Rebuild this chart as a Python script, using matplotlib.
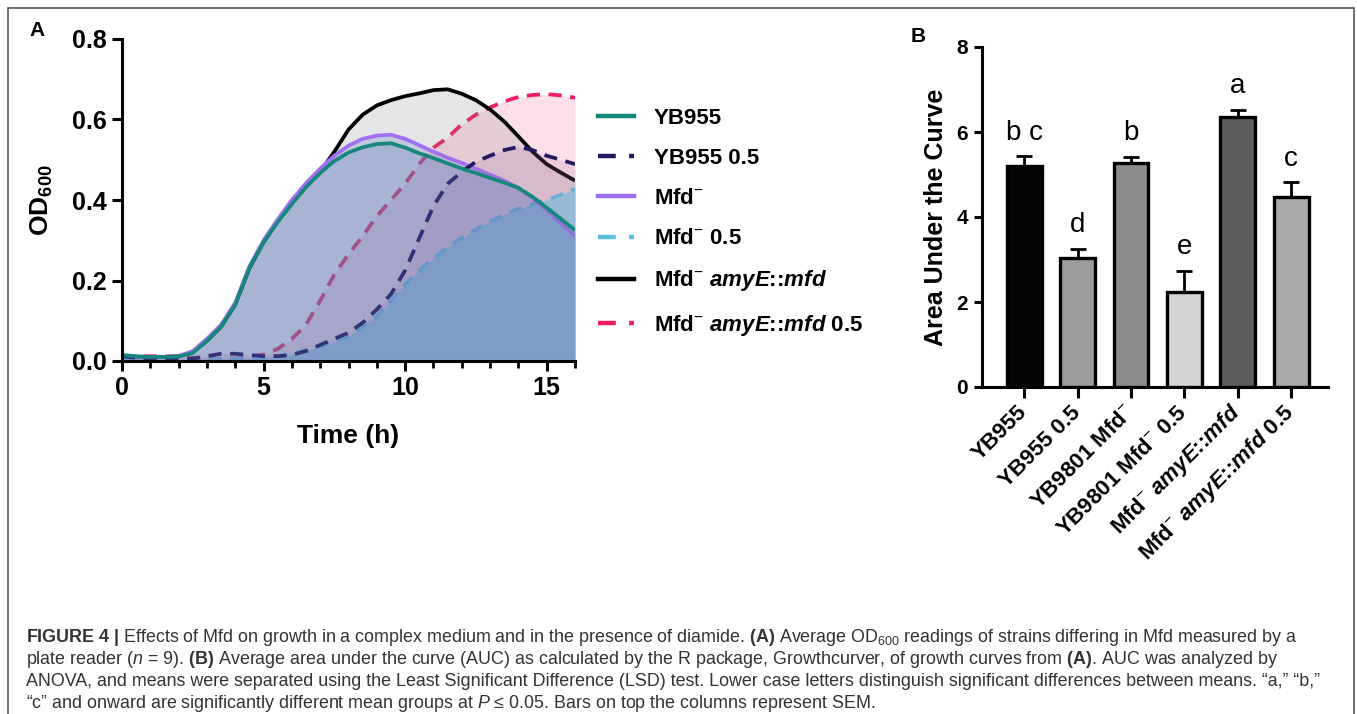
import numpy as np
import matplotlib
matplotlib.use("Agg")
import matplotlib.pyplot as plt
from matplotlib.lines import Line2D
from matplotlib.patches import Rectangle
from matplotlib.ticker import FormatStrFormatter, MultipleLocator

plt.rcParams['font.family'] = ['Liberation Sans', 'DejaVu Sans']
plt.rcParams['mathtext.fontset'] = 'custom'
plt.rcParams['mathtext.rm'] = 'Liberation Sans'
plt.rcParams['mathtext.it'] = 'Liberation Sans:italic'
plt.rcParams['mathtext.bf'] = 'Liberation Sans:bold'
plt.rcParams['mathtext.bfit'] = 'Liberation Sans:italic:bold'

# ---- panel A: growth curves (OD600 every 0.5 h) ----
time = [0, 0.5, 1, 1.5, 2, 2.5, 3, 3.5, 4, 4.5, 5, 5.5, 6, 6.5, 7, 7.5, 8,
        8.5, 9, 9.5, 10, 10.5, 11, 11.5, 12, 12.5, 13, 13.5, 14, 14.5, 15, 15.5, 16]

yb955 = [0.015, 0.012, 0.010, 0.010, 0.011, 0.020, 0.050, 0.085, 0.140, 0.232, 0.295,
         0.345, 0.390, 0.432, 0.467, 0.497, 0.518, 0.531, 0.539, 0.541, 0.530, 0.516,
         0.504, 0.491, 0.478, 0.467, 0.455, 0.443, 0.430, 0.408, 0.381, 0.353, 0.325]
yb955_05 = [0.012, 0.008, 0.005, 0.003, 0.003, 0.006, 0.012, 0.018, 0.018, 0.015, 0.012,
            0.012, 0.015, 0.025, 0.040, 0.055, 0.070, 0.095, 0.128, 0.166, 0.225, 0.305,
            0.385, 0.440, 0.470, 0.495, 0.510, 0.524, 0.532, 0.524, 0.510, 0.500, 0.489]
mfd = [0.012, 0.010, 0.010, 0.010, 0.012, 0.025, 0.055, 0.090, 0.145, 0.235, 0.300,
       0.352, 0.400, 0.442, 0.478, 0.510, 0.535, 0.552, 0.560, 0.562, 0.552, 0.536,
       0.520, 0.505, 0.492, 0.478, 0.463, 0.448, 0.430, 0.405, 0.375, 0.342, 0.310]
mfd_05 = [0.010, 0.006, 0.004, 0.002, 0.002, 0.003, 0.004, 0.005, 0.005, 0.006, 0.008,
          0.012, 0.018, 0.026, 0.036, 0.048, 0.060, 0.085, 0.110, 0.150, 0.190, 0.225,
          0.255, 0.283, 0.305, 0.327, 0.347, 0.363, 0.378, 0.390, 0.400, 0.413, 0.428]
amye = [0.012, 0.010, 0.010, 0.010, 0.012, 0.022, 0.050, 0.085, 0.140, 0.230, 0.295,
        0.348, 0.395, 0.437, 0.470, 0.520, 0.575, 0.612, 0.635, 0.648, 0.658, 0.665,
        0.673, 0.675, 0.664, 0.648, 0.625, 0.595, 0.558, 0.520, 0.489, 0.468, 0.448]
amye_05 = [0.012, 0.012, 0.012, 0.012, 0.010, 0.008, 0.006, 0.005, 0.006, 0.010, 0.016,
           0.030, 0.055, 0.090, 0.150, 0.215, 0.265, 0.310, 0.360, 0.400, 0.440, 0.490,
           0.530, 0.555, 0.588, 0.612, 0.630, 0.645, 0.656, 0.661, 0.663, 0.660, 0.654]

legend_labels = ["YB955", "YB955 0.5", r"Mfd$^{-}$", r"Mfd$^{-}$ 0.5",
                 r"Mfd$^{-}$ $\mathbfit{amyE}$::$\mathbfit{mfd}$",
                 r"Mfd$^{-}$ $\mathbfit{amyE}$::$\mathbfit{mfd}$ 0.5"]

# ---- panel B: area under the curve ----
strains = ["YB955", "YB955 0.5", r"YB9801 Mfd$^{-}$", r"YB9801 Mfd$^{-}$ 0.5",
           r"Mfd$^{-}$ $\mathbfit{amyE}$::$\mathbfit{mfd}$",
           r"Mfd$^{-}$ $\mathbfit{amyE}$::$\mathbfit{mfd}$ 0.5"]
auc = [5.21, 3.04, 5.26, 2.24, 6.36, 4.48]
sem = [0.22, 0.21, 0.16, 0.50, 0.16, 0.34]
groups = ["b c", "d", "b", "e", "a", "c"]
bar_colors = ['#050505', '#9c9c9c', '#8c8c8c', '#d4d4d4', '#5c5c5c', '#a8a8a8']

W, H = 1357, 714
fig = plt.figure(figsize=(W / 100, H / 100), dpi=100)


def box(l, t, r, b):
    return [l / W, 1 - b / H, (r - l) / W, (b - t) / H]


axA = fig.add_axes(box(122, 39, 575, 361))

# drawn bottom to top: (values, line colour, fill colour, fill alpha, dashed)
layers = [
    (amye_05, '#ee1f5c', '#f06090', 0.20, True),
    (amye, '#000000', '#808090', 0.20, False),
    (mfd_05, '#5cbde3', '#30c8ea', 0.45, True),
    (mfd, '#a070f0', '#5f7abe', 0.26, False),
    (yb955_05, '#24185f', '#aa78aa', 0.20, True),
    (yb955, '#17877d', '#5f7abe', 0.26, False),
]
for i, (vals, lc, fc, fa, dashed) in enumerate(layers):
    axA.fill_between(time, vals, 0, color=fc, alpha=fa, lw=0, zorder=2 + 2 * i)
    axA.plot(time, vals, color=lc, lw=2.7, ls=(0, (3.5, 2.3)) if dashed else '-',
             zorder=3 + 2 * i, solid_capstyle='butt')

axA.set_xlim(0, 16)
axA.set_ylim(0, 0.8)
axA.xaxis.set_major_locator(MultipleLocator(5))
axA.xaxis.set_minor_locator(MultipleLocator(1))
axA.yaxis.set_major_locator(MultipleLocator(0.2))
axA.yaxis.set_major_formatter(FormatStrFormatter('%.1f'))
for s in ['top', 'right']:
    axA.spines[s].set_visible(False)
for s in ['left', 'bottom']:
    axA.spines[s].set_linewidth(2.2)
    axA.spines[s].set_zorder(20)
axA.tick_params(which='major', length=7, width=2.2, labelsize=18, pad=4)
axA.tick_params(which='minor', length=5, width=2.0)
for lab in axA.get_xticklabels() + axA.get_yticklabels():
    lab.set_fontweight('bold')
axA.set_xlabel("Time (h)", fontsize=19, fontweight='bold', labelpad=17)
axA.set_ylabel(r"OD$_{\mathbf{600}}$", fontsize=19, fontweight='bold', labelpad=12)

order = [5, 4, 3, 2, 1, 0]
handles = []
for k in order:
    vals, lc, fc, fa, dashed = layers[k]
    handles.append(Line2D([], [], color=lc, lw=3.2,
                          ls=(0, (4.0, 3.0)) if dashed else '-'))
axA.legend(handles, legend_labels, loc='upper left',
           bbox_to_anchor=(598 / W, 1 - 108 / H), bbox_transform=fig.transFigure,
           frameon=False, prop={'weight': 'bold', 'size': 16}, handlelength=1.6,
           handletextpad=0.9, labelspacing=0.86, borderaxespad=0, borderpad=0)

# ---- panel B ----
axB = fig.add_axes(box(982, 47, 1328, 387))
x = np.arange(len(auc))
axB.bar(x, auc, width=0.65, color=bar_colors, edgecolor='black', linewidth=2.4, zorder=3)
axB.errorbar(x, auc, yerr=[np.zeros(len(sem)), sem], fmt='none', ecolor='black',
             elinewidth=2.0, capsize=6, capthick=2.0, zorder=4)
for xi, a, e, g in zip(x, auc, sem, groups):
    axB.text(xi, a + e + 0.25, g, ha='center', va='bottom', fontsize=20)
axB.set_xlim(-0.79, 5.69)
axB.set_ylim(0, 8)
axB.set_yticks([0, 2, 4, 6, 8])
axB.set_xticks(x)
axB.set_xticklabels(strains, rotation=45, ha='right', va='center',
                    rotation_mode='anchor', fontsize=16, fontweight='bold')
for lab in axB.get_yticklabels():
    lab.set_fontweight('bold')
for s in ['top', 'right']:
    axB.spines[s].set_visible(False)
for s in ['left', 'bottom']:
    axB.spines[s].set_linewidth(2.2)
axB.tick_params(axis='y', length=6, width=2.2, labelsize=15, pad=4)
axB.tick_params(axis='x', length=8, width=2.2, pad=8)
axB.set_ylabel("Area Under the Curve", fontsize=18, fontweight='bold', labelpad=6)

fig.text(37 / W, 1 - 30 / H, "A", fontsize=15, fontweight='bold', ha='center', va='center')
fig.text(918 / W, 1 - 36 / H, "B", fontsize=15, fontweight='bold', ha='center', va='center')

# frame and caption
fig.add_artist(Rectangle((8 / W, -0.1), (1354 - 8) / W, (H - 8) / H + 0.1,
                         transform=fig.transFigure, fill=False, ec='#555555', lw=1.2))
caption = [
    r"$\mathbf{FIGURE\ 4\ |}$ Effects of Mfd on growth in a complex medium and in the presence of diamide. "
    r"$\mathbf{(A)}$ Average OD$_{600}$ readings of strains differing in Mfd measured by a",
    r"plate reader ($\mathit{n}$ = 9). $\mathbf{(B)}$ Average area under the curve (AUC) as calculated by "
    r"the R package, Growthcurver, of growth curves from $\mathbf{(A)}$. AUC was analyzed by",
    "ANOVA, and means were separated using the Least Significant Difference (LSD) test. Lower case "
    "letters distinguish significant differences between means. \u201ca,\u201d \u201cb,\u201d",
    "\u201cc\u201d and onward are significantly different mean groups at $\\mathit{P}$ \u2264 0.05. "
    "Bars on top the columns represent SEM.",
]
for k, line in enumerate(caption):
    fig.text(26 / W, 1 - (637 + 22 * k) / H, line, fontsize=12.9, color='#333333',
             ha='left', va='center')

fig.savefig("out.png", dpi=100)
